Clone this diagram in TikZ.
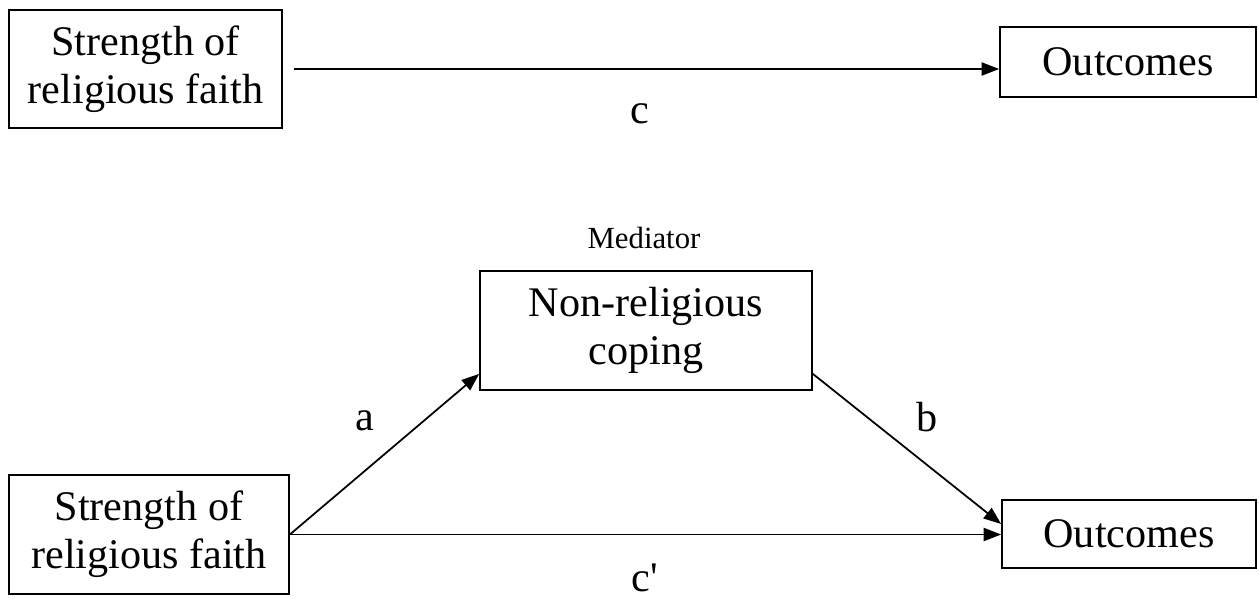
\documentclass[tikz,border=0pt]{standalone}
\usepackage{fontspec}
\setmainfont{Liberation Serif}
\usepackage{tikz}
\usetikzlibrary{arrows.meta, positioning, calc}

\begin{document}
\begin{tikzpicture}[x=0.02cm, y=-0.02cm,
    box/.style={draw, line width=1pt, align=center, inner sep=0pt,
        font=\fontsize{24}{27.5}\selectfont},
    lbl/.style={font=\fontsize{24}{25}\selectfont, inner sep=0pt},
    arr/.style={line width=1pt, -{Triangle[length=10pt, width=7.5pt]}}]
    \useasboundingbox (0, 0) rectangle (1259, 599);

    % Total effect
    \node[box, minimum width=5.46cm, minimum height=2.36cm] (faithA) at (145.5, 69)
        {Strength of\\religious faith};
    \node[box, minimum width=5.12cm, minimum height=1.40cm] (outA) at (1128, 62)
        {Outcomes};
    \draw[arr] ([xshift=0.22cm]faithA.east) -- (outA.west |- faithA.east);
    \node[lbl] (c) at (640, 114) {c};

    % Mediated effect
    \node[box, minimum width=6.64cm, minimum height=2.38cm] (coping) at (646, 330.5)
        {Non-religious\\coping};
    \node[font=\fontsize{17.5}{18}\selectfont, inner sep=0pt] (med) at (644, 238) {Mediator};
    \node[box, minimum width=5.60cm, minimum height=2.38cm] (faithB) at (149, 534.5)
        {Strength of\\religious faith};
    \node[box, minimum width=5.08cm, minimum height=1.36cm] (outB) at (1129, 534)
        {Outcomes};
    \draw[arr] (faithB.east) -- ([yshift=0.34cm]coping.south west);
    \draw[arr] ([yshift=0.34cm]coping.south east) -- ([yshift=0.2cm]outB.west);
    \draw[arr] (faithB.east) -- (outB.west |- faithB.east);

    % Labels
    \node[lbl] (a) at (365, 421) {a};
    \node[lbl] (b) at (927, 417) {b};
    \node[lbl] (cp) at (645, 578) {c\textquotesingle};
\end{tikzpicture}
\end{document}
